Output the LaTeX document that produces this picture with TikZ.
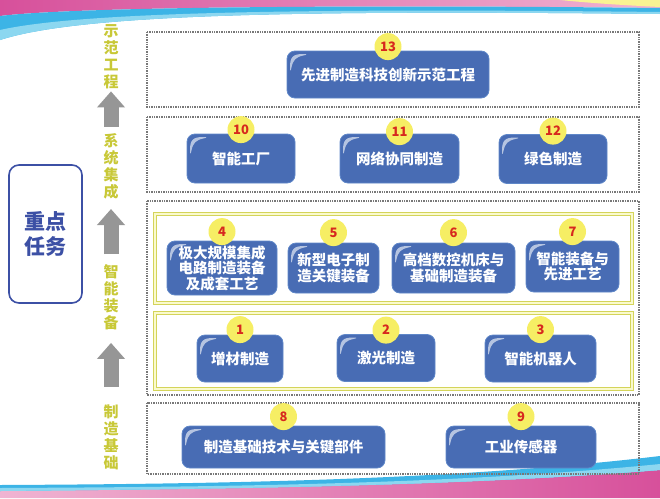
\documentclass[tikz,border=0pt]{standalone}
\usepackage{fontspec}
\newfontfamily\cjk{Noto Sans CJK SC}
\usetikzlibrary{arrows.meta,positioning}

\definecolor{taskblue}{RGB}{72,108,180}
\definecolor{taskedge}{RGB}{95,135,200}
\definecolor{numyellow}{RGB}{246,238,100}
\definecolor{numred}{RGB}{215,40,30}
\definecolor{zonegray}{RGB}{120,120,120}
\definecolor{bandline}{RGB}{212,212,90}
\definecolor{bandfill}{RGB}{250,250,205}
\definecolor{sideyellow}{RGB}{200,200,55}
\definecolor{arrgray}{RGB}{150,150,150}
\definecolor{keyblue}{RGB}{60,80,165}
\definecolor{swpink}{RGB}{215,80,155}
\definecolor{swlight}{RGB}{240,180,210}
\definecolor{swblue}{RGB}{60,180,230}
\definecolor{swcyan}{RGB}{140,215,240}

\begin{document}
\begin{tikzpicture}[x=1pt,y=-1pt,
    task/.style={draw=taskedge, line width=0.8pt, fill=taskblue, rounded corners=8pt,
      text=white, align=center, inner sep=2pt,
      font=\cjk\bfseries\fontsize{14.5}{15.5}\selectfont,
      path picture={
        \fill[white,opacity=0.6] ([shift={(3pt,-24pt)}]path picture bounding box.north west)
          .. controls ([shift={(3pt,-6pt)}]path picture bounding box.north west)
          and ([shift={(6pt,-3pt)}]path picture bounding box.north west)
          .. ([shift={(24pt,-3pt)}]path picture bounding box.north west)
          .. controls ([shift={(9pt,-6pt)}]path picture bounding box.north west)
          and ([shift={(6pt,-9pt)}]path picture bounding box.north west)
          .. ([shift={(3pt,-24pt)}]path picture bounding box.north west) -- cycle;}},
    num/.style={circle, fill=numyellow, text=numred, minimum size=27pt, inner sep=0pt,
      font=\cjk\bfseries\fontsize{13}{13}\selectfont},
    zone/.style={draw=zonegray, line width=1.6pt, dash pattern=on 1.4pt off 1pt},
    band/.style={draw=bandline, line width=0.8pt, double=bandfill, double distance=2pt},
    side/.style={text=sideyellow, align=center, inner sep=0pt,
      font=\cjk\bfseries\fontsize{15}{17}\selectfont},
    uparr/.style={draw=arrgray, line width=15pt, -{Triangle[width=27pt,length=16pt]}}]

    \useasboundingbox (0,0) rectangle (660,498);

    % swooshes top and bottom
    \shade[left color=swpink, right color=swlight] (0,0) -- (660,0) -- (660,8)
      .. controls (400,5) and (80,6) .. (0,16) -- cycle;
    \fill[swblue] (0,16) .. controls (80,6) and (400,5) .. (660,8) -- (660,14)
      .. controls (300,10) and (80,14) .. (0,40) -- cycle;
    \fill[swcyan] (0,30) .. controls (80,12) and (300,8) .. (660,12) -- (660,14)
      .. controls (300,10) and (80,14) .. (0,40) -- cycle;
    \fill[numyellow!70] (560,0) -- (660,0) -- (660,7) .. controls (620,5) and (590,3) .. (560,0) -- cycle;
    \shade[left color=swlight, right color=swpink] (0,491) .. controls (200,489) and (450,487) .. (660,470)
      -- (660,498) -- (0,498) -- cycle;
    \fill[swblue] (0,485) .. controls (200,484) and (450,481) .. (660,456) -- (660,470)
      .. controls (450,487) and (200,489) .. (0,491) -- cycle;
    \fill[swcyan] (0,488) .. controls (200,487) and (450,485) .. (660,464) -- (660,470)
      .. controls (450,487) and (200,489) .. (0,491) -- cycle;

    % left column
    \node[draw=keyblue, line width=1.6pt, rounded corners=10pt, fill=white, text=keyblue,
      minimum width=73pt, minimum height=138pt, align=center,
      font=\cjk\bfseries\fontsize{21}{25}\selectfont] (key) at (45.5,234) {重点\\任务};
    \node[side] (lbl1) at (111,57) {示\\范\\工\\程};
    \node[side] (lbl2) at (111,166) {系\\统\\集\\成};
    \node[side] (lbl3) at (111,297) {智\\能\\装\\备};
    \node[side] (lbl4) at (111,437.5) {制\\造\\基\\础};
    \draw[uparr, shorten <=6pt, shorten >=2pt] (lbl2) -- (lbl1);
    \draw[uparr, shorten <=10pt, shorten >=10pt] (lbl3) -- (lbl2);
    \draw[uparr, shorten <=18pt, shorten >=13pt] (lbl4) -- (lbl3);

    % frames
    \draw[zone] (147,32) rectangle (639,107);
    \draw[zone] (147,117) rectangle (639,192);
    \draw[zone] (147,201) rectangle (639,395);
    \draw[zone] (147,403) rectangle (639,474);
    \draw[band, fill=white] (155,214) rectangle (632,303);
    \draw[band, fill=white] (155,313) rectangle (632,389);

    % tasks
    \node[task, minimum width=202pt, minimum height=47pt] (t13) at (388,74.5) {先进制造科技创新示范工程};
    \node[task, minimum width=108pt, minimum height=49pt] (t10) at (241,158.5) {智能工厂};
    \node[task, minimum width=119pt, minimum height=49pt] (t11) at (399.5,158.5) {网络协同制造};
    \node[task, minimum width=108pt, minimum height=49pt] (t12) at (553,159) {绿色制造};
    \node[task, minimum width=110pt, minimum height=54pt] (t4) at (222,268) {极大规模集成\\电路制造装备\\及成套工艺};
    \node[task, minimum width=91pt, minimum height=50pt] (t5) at (333.5,268) {新型电子制\\造关键装备};
    \node[task, minimum width=123pt, minimum height=50pt] (t6) at (453.5,268) {高档数控机床与\\基础制造装备};
    \node[task, minimum width=93pt, minimum height=51pt] (t7) at (572.5,266.5) {智能装备与\\先进工艺};
    \node[task, minimum width=86pt, minimum height=47pt] (t1) at (240,358.5) {增材制造};
    \node[task, minimum width=98pt, minimum height=47pt] (t2) at (386,358) {激光制造};
    \node[task, minimum width=111pt, minimum height=47pt] (t3) at (540.5,358.5) {智能机器人};
    \node[task, minimum width=203pt, minimum height=42pt] (t8) at (283.5,447) {制造基础技术与关键部件};
    \node[task, minimum width=150pt, minimum height=42pt] (t9) at (521,447) {工业传感器};

    % numbers
    \node[num] (n13) at ([yshift=4pt]t13.north) {13};
    \node[num] (n10) at ([yshift=4pt]t10.north) {10};
    \node[num] (n11) at ([yshift=2pt]t11.north) {11};
    \node[num] (n12) at ([yshift=3pt]t12.north) {12};
    \node[num] (n4) at ([yshift=9pt]t4.north) {4};
    \node[num] (n5) at ([yshift=10pt]t5.north) {5};
    \node[num] (n6) at ([yshift=10pt]t6.north) {6};
    \node[num] (n7) at ([yshift=9pt]t7.north) {7};
    \node[num] (n1) at ([yshift=5pt]t1.north) {1};
    \node[num] (n2) at ([yshift=4pt]t2.north) {2};
    \node[num] (n3) at ([yshift=5pt]t3.north) {3};
    \node[num] (n8) at ([yshift=9pt]t8.north) {8};
    \node[num] (n9) at ([yshift=9pt]t9.north) {9};
\end{tikzpicture}
\end{document}
